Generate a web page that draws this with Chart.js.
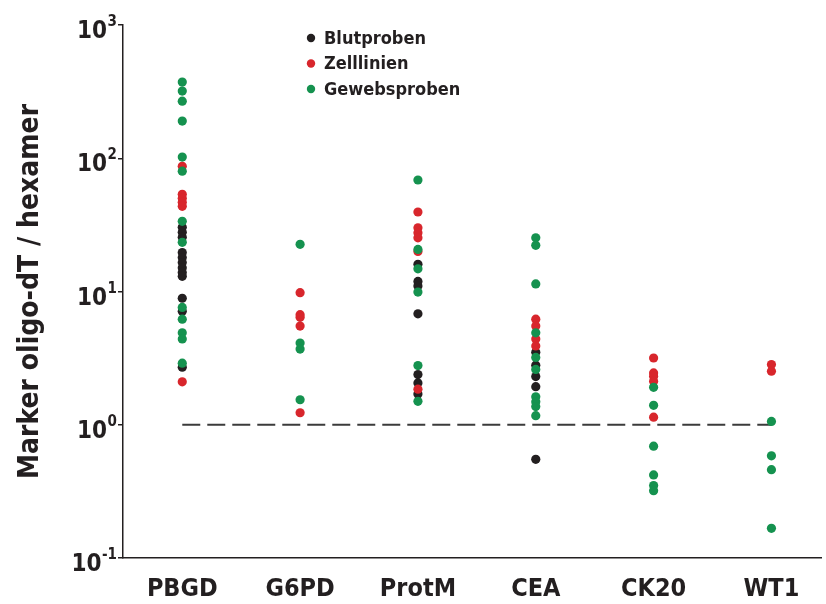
<!DOCTYPE html>
<html>
<head>
<meta charset="utf-8">
<title>Marker oligo-dT / hexamer</title>
<script src="https://cdn.jsdelivr.net/npm/chart.js"></script>
<style>
  html, body { margin: 0; padding: 0; background: #fff; }
</style>
</head>
<body>
<canvas id="myChart" width="826" height="604"></canvas>
<script>
    const categories = ['PBGD', 'G6PD', 'ProtM', 'CEA', 'CK20', 'WT1'];
    const yTicks = [0.1, 1, 10, 100, 1000];
    const yTickExponents = ['-1', '0', '1', '2', '3'];
    const cutoff = 1;

    // one inner list per marker, same order as categories
    const blutproben = [
        [30.3, 27.8, 25.5, 19.6, 18, 16.5, 15.1, 13.9, 13, 8.9, 7.1, 2.7],
        [],
        [16, 11.9, 11, 6.8, 2.38, 2.06, 1.7],
        [3.5, 2.8, 2.3, 1.93, 0.55],
        [],
        []
    ];
    const zelllinien = [
        [87, 53.6, 50, 46.7, 43.6, 2.1],
        [9.8, 6.7, 6.4, 5.5, 1.23],
        [39.5, 30.1, 27.6, 25.3, 20, 1.85],
        [6.2, 5.5, 4.4, 3.9],
        [3.17, 2.45, 2.31, 2.12, 1.14],
        [2.83, 2.52]
    ];
    const gewebsproben = [
        [373, 319, 268, 190, 102, 80, 33.6, 23.4, 7.6, 6.2, 4.9, 4.4, 2.9],
        [22.6, 4.1, 3.7, 1.54],
        [68.7, 20.7, 14.8, 9.9, 2.78, 1.5],
        [25.3, 22.2, 11.4, 4.9, 3.2, 2.6, 1.62, 1.49, 1.37, 1.17],
        [1.91, 1.4, 0.69, 0.42, 0.35, 0.32],
        [1.06, 0.585, 0.46, 0.167]
    ];

    const FONT = "'DejaVu Sans Condensed', 'Liberation Sans Narrow', 'DejaVu Sans', sans-serif";
    const INK = '#231f20';

    function toPoints(groups) {
        let pts = [];
        groups.forEach((vals, i) => vals.forEach(v => pts.push({x: i, y: v})));
        return pts;
    }

    function series(label, groups, color, order) {
        return {
            type: 'scatter',
            label: label,
            data: toPoints(groups),
            backgroundColor: color,
            borderWidth: 0,
            pointRadius: 4.6,
            pointHoverRadius: 4.6,
            order: order
        };
    }

    // legend drawn inside the plot, top left of centre
    const innerLegend = {
        id: 'innerLegend',
        afterDraw(chart) {
            const ctx = chart.ctx;
            const items = chart.data.datasets.filter(d => d.type === 'scatter')
                .sort((a, b) => b.order - a.order);
            ctx.save();
            ctx.font = "bold 18px " + FONT;
            ctx.textBaseline = 'middle';
            items.forEach((d, i) => {
                const y = 38 + i * 25.5;
                ctx.fillStyle = d.backgroundColor;
                ctx.beginPath();
                ctx.arc(311, y, 4.2, 0, Math.PI * 2);
                ctx.fill();
                ctx.fillStyle = INK;
                ctx.fillText(d.label, 324, y + 1);
            });
            ctx.restore();
        }
    };

    // "10" with a raised exponent next to each decade tick
    const powerLabels = {
        id: 'powerLabels',
        afterDraw(chart) {
            const ctx = chart.ctx;
            const y = chart.scales.y;
            const right = y.right - 6;
            ctx.save();
            ctx.fillStyle = INK;
            ctx.textBaseline = 'alphabetic';
            yTicks.forEach((v, i) => {
                const py = y.getPixelForValue(v);
                ctx.font = "bold 15px " + FONT;
                const ew = ctx.measureText(yTickExponents[i]).width;
                ctx.textAlign = 'left';
                ctx.fillText(yTickExponents[i], right - ew, py + 1);
                ctx.font = "bold 24px " + FONT;
                ctx.textAlign = 'right';
                ctx.fillText('10', right - ew - 0.5, py + 13);
            });
            ctx.restore();
        }
    };

    const ctx = document.getElementById('myChart').getContext('2d');
    const myChart = new Chart(ctx, {
        data: {
            datasets: [
                series('Gewebsproben', gewebsproben, '#15924f', 0),
                series('Zelllinien', zelllinien, '#d8262c', 1),
                series('Blutproben', blutproben, INK, 2),
                {
                    type: 'line',
                    label: 'cutoff',
                    data: [{x: 0, y: cutoff}, {x: categories.length - 1, y: cutoff}],
                    borderColor: '#3b3b3b',
                    borderWidth: 2,
                    borderDash: [18, 7],
                    pointRadius: 0,
                    order: 3
                }
            ]
        },
        options: {
            responsive: false,
            animation: false,
            devicePixelRatio: 1,
            layout: { padding: { top: 25, right: 0, bottom: 0, left: 0 } },
            plugins: {
                legend: { display: false },
                tooltip: { enabled: false }
            },
            scales: {
                x: {
                    type: 'linear',
                    min: -0.503,
                    max: 5.424,
                    afterBuildTicks: axis => { axis.ticks = categories.map((c, i) => ({value: i})); },
                    afterFit: scale => { scale.height = 46; },
                    ticks: {
                        callback: v => categories[v],
                        color: INK,
                        font: { family: FONT, size: 25, weight: 'bold' },
                        padding: 8,
                        maxRotation: 0,
                        autoSkip: false
                    },
                    grid: { display: false },
                    border: { display: true, color: INK, width: 1.5 }
                },
                y: {
                    type: 'logarithmic',
                    min: yTicks[0],
                    max: yTicks[yTicks.length - 1],
                    afterBuildTicks: axis => { axis.ticks = yTicks.map(v => ({value: v, major: true})); },
                    afterFit: scale => { scale.width = 123; },
                    ticks: { display: false },
                    grid: {
                        drawOnChartArea: false,
                        drawTicks: true,
                        tickLength: 5,
                        color: INK,
                        lineWidth: 1.5
                    },
                    border: { display: true, color: INK, width: 1.5 },
                    title: {
                        display: true,
                        text: 'Marker oligo-dT / hexamer',
                        color: INK,
                        font: { family: FONT, size: 28, weight: 'bold' },
                        padding: { top: 14, bottom: 0 }
                    }
                }
            }
        },
        plugins: [innerLegend, powerLabels]
    });
</script>
</body>
</html>
